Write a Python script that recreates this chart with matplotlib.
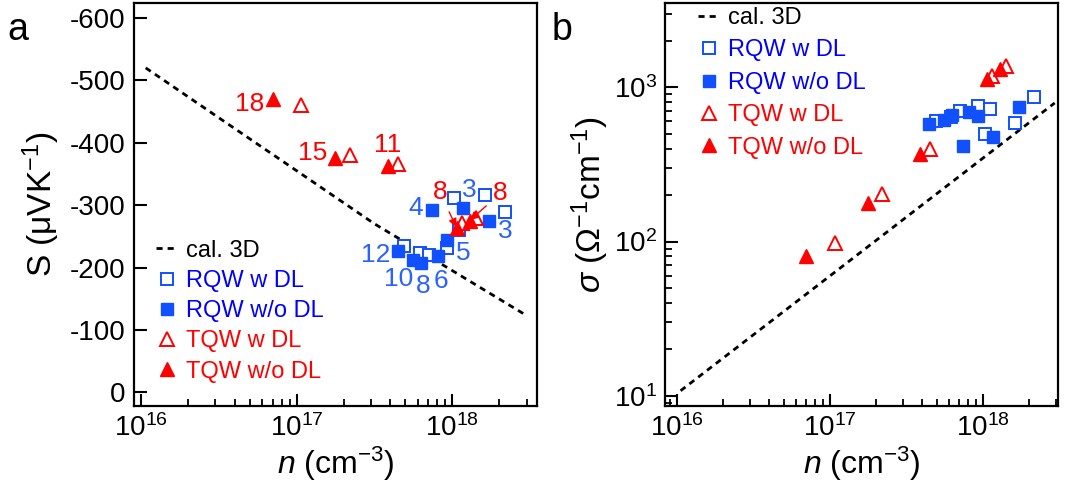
import numpy as np
import matplotlib
matplotlib.use('Agg')
import matplotlib.pyplot as plt
from matplotlib.ticker import LogLocator, FixedLocator, NullFormatter, FuncFormatter

plt.rcParams['font.family'] = ['Liberation Sans', 'DejaVu Sans']
plt.rcParams['mathtext.fontset'] = 'custom'
plt.rcParams['mathtext.rm'] = 'Liberation Sans'
plt.rcParams['mathtext.it'] = 'Liberation Sans:italic'
plt.rcParams['axes.unicode_minus'] = False

# calculated 3D curves
n_cal_S = [1.07e16, 3.16e16, 1e17, 3.16e17, 1e18, 3.0e18]
S_cal = [-520, -440, -355, -270, -195, -123]
n_cal_sig = [1.05e16, 1e17, 1e18, 2.95e18]
sig_cal = [10.8, 60, 347, 790]

# RQW with DL (open squares)
n_rqw_dl = [4.9e17, 6.2e17, 7.1e17, 9.3e17, 1.03e18, 1.11e18, 1.63e18, 2.17e18]
S_rqw_dl = [-234, -224, -220, -231, -311, -260, -316, -289]
sig_rqw_dl = [604, 640, 702, 753, 495, 717, 586, 858]

# RQW without DL (filled squares)
n_rqw = [4.45e17, 5.6e17, 6.3e17, 7.4e17, 8.1e17, 9.3e17, 1.17e18, 1.72e18]
S_rqw = [-226, -212, -207, -292, -219, -244, -295, -274]
sig_rqw = [575, 616, 658, 414, 691, 649, 475, 745]

# TQW with DL (open triangles)
n_tqw_dl = [1.07e17, 2.2e17, 4.5e17, 1.15e18, 1.42e18]
S_tqw_dl = [-460, -380, -366, -272, -280]
sig_tqw_dl = [98, 202, 400, 1178, 1369]

# TQW without DL (filled triangles)
n_tqw = [7.0e16, 1.76e17, 3.85e17, 1.07e18, 1.29e18]
S_tqw = [-470, -376, -362, -263, -275]
sig_tqw = [80, 177, 371, 1138, 1303]

# well-width labels (text, n, S)
blue_labels = [('12', 3.24e17, -220), ('10', 4.55e17, -181), ('8', 6.45e17, -170),
               ('6', 8.45e17, -178), ('5', 1.18e18, -224), ('4', 5.8e17, -295),
               ('3', 1.28e18, -324), ('3', 2.18e18, -258)]
red_labels = [('18', 5.0e16, -462), ('15', 1.26e17, -384), ('11', 3.85e17, -396)]
red_arrows = [('8', 8.3e17, -321, 1.06e18, -265), ('8', 2.04e18, -319, 1.3e18, -276)]

blue = '#1050ff'
blue_txt = '#0000ff'
blue_num = '#2a62ff'
red = '#ff0000'

fig = plt.figure(figsize=(10.67, 4.9), dpi=100)
ax1 = fig.add_axes([134 / 1067, 1 - 406 / 490, 403 / 1067, 403 / 490])
ax2 = fig.add_axes([665 / 1067, 1 - 406 / 490, 393 / 1067, 403 / 490])

sq = dict(marker='s', ms=8.5, ls='none')
tri = dict(marker='^', ms=10, ls='none')


def draw(ax, yc, y1, y2, y3, y4, ncal):
    ax.plot(ncal, yc, ls=(0, (2.2, 1.8)), color='black', lw=2, label='cal. 3D')
    ax.plot(n_rqw_dl, y1, mfc='white', mec=blue, mew=1.4, label='RQW w DL', **sq)
    ax.plot(n_rqw, y2, color=blue, label='RQW w/o DL', **sq)
    ax.plot(n_tqw_dl, y3, mfc='white', mec=red, mew=1.4, label='TQW w DL', **tri)
    ax.plot(n_tqw, y4, color=red, label='TQW w/o DL', **tri)


draw(ax1, S_cal, S_rqw_dl, S_rqw, S_tqw_dl, S_tqw, n_cal_S)
draw(ax2, sig_cal, sig_rqw_dl, sig_rqw, sig_tqw_dl, sig_tqw, n_cal_sig)

for ax in (ax1, ax2):
    ax.set_xscale('log')
    ax.xaxis.set_major_locator(LogLocator(base=10, numticks=10))
    ax.xaxis.set_minor_locator(LogLocator(base=10, subs=np.arange(2, 10), numticks=20))
    ax.xaxis.set_major_formatter(FuncFormatter(lambda v, p: r'10$^{%d}$' % round(np.log10(v))))
    ax.xaxis.set_minor_formatter(NullFormatter())
    ax.tick_params(which='major', direction='in', length=9, width=1.5, labelsize=20, pad=6)
    ax.tick_params(which='minor', direction='in', length=5, width=1.3)
    for s in ax.spines.values():
        s.set_linewidth(1.6)
    ax.set_xlabel(r'$\mathit{n}$ (cm$^{-3}$)', fontsize=23, labelpad=2)

ax1.set_xlim(9.0e15, 3.5e18)
ax1.set_ylim(22, -624)
ax1.yaxis.set_major_locator(FixedLocator([0, -100, -200, -300, -400, -500, -600]))
ax1.set_ylabel('S (μVK$^{-1}$)', fontsize=24, labelpad=6)

ax2.set_xlim(8.3e15, 3.1e18)
ax2.set_yscale('log')
ax2.set_ylim(8.6, 3510)
ax2.yaxis.set_major_locator(LogLocator(base=10, numticks=10))
ax2.yaxis.set_minor_locator(LogLocator(base=10, subs=np.arange(2, 10), numticks=20))
ax2.yaxis.set_major_formatter(FuncFormatter(lambda v, p: r'10$^{%d}$' % round(np.log10(v))))
ax2.yaxis.set_minor_formatter(NullFormatter())
ax2.set_ylabel(r'$\mathit{\sigma}$ ($\Omega^{-1}$cm$^{-1}$)', fontsize=24, labelpad=2)

for txt, x, y in blue_labels:
    ax1.text(x, y, txt, color=blue_num, fontsize=19, ha='center', va='center')
for txt, x, y in red_labels:
    ax1.text(x, y, txt, color=red, fontsize=19, ha='center', va='center')
for txt, x, y, xa, ya in red_arrows:
    ax1.annotate(txt, xy=(xa, ya), xytext=(x, y), color=red, fontsize=19,
                 ha='center', va='center',
                 arrowprops=dict(arrowstyle='-|>', color=red, lw=1, shrinkA=4, shrinkB=0,
                                 mutation_scale=12))

txt_colors = ['black', blue_txt, blue_txt, red, red]
for ax, anchor, loc, sp in ((ax1, (0.055, 0.058), 'lower left', 0.35),
                            (ax2, (0.085, 0.99), 'upper left', 0.44)):
    leg = ax.legend(loc=loc, bbox_to_anchor=anchor, frameon=False, fontsize=17,
                    handlelength=0.9, handletextpad=0.35, labelspacing=sp, borderpad=0,
                    borderaxespad=0)
    for t, c in zip(leg.get_texts(), txt_colors):
        t.set_color(c)

fig.text(18 / 1067, 1 - 30 / 490, 'a', fontsize=27, ha='center', va='center')
fig.text(562 / 1067, 1 - 30 / 490, 'b', fontsize=27, ha='center', va='center')

fig.savefig('out.png', dpi=100)
